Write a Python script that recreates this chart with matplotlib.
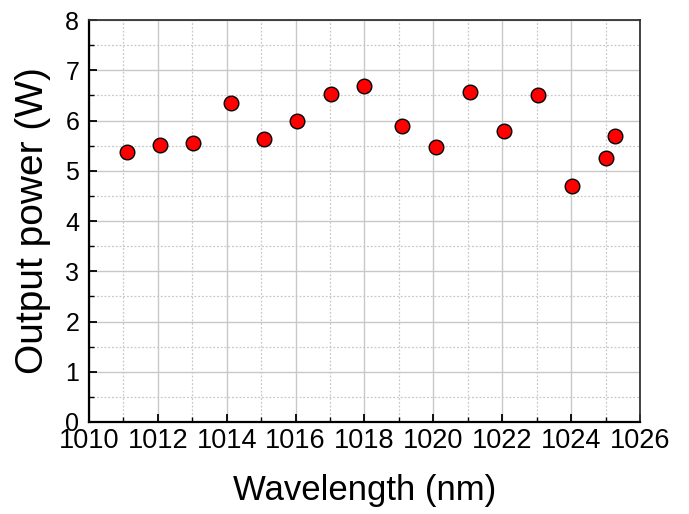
import matplotlib
matplotlib.use('Agg')
import matplotlib.pyplot as plt
from matplotlib.ticker import MultipleLocator

# ── Data ──────────────────────────────────────────────────────────────────────
wavelength_nm = [1011.1, 1012.06, 1013.03, 1014.12, 1015.08, 1016.05, 1017.03,
                 1018.0, 1019.1, 1020.09, 1021.07, 1022.05, 1023.04, 1024.02,
                 1025.0, 1025.28]
output_power_w = [5.38, 5.51, 5.56, 6.35, 5.64, 6.0, 6.53, 6.68, 5.89, 5.48,
                  6.57, 5.79, 6.51, 4.69, 5.25, 5.70]

plt.rcParams['font.family'] = ['Liberation Sans', 'DejaVu Sans']

fig = plt.figure(figsize=(6.89, 5.14), dpi=100)
ax = fig.add_axes([0.129, 0.179, 0.800, 0.782])

ax.plot(wavelength_nm, output_power_w, 'o', color='#ff0000', markersize=10.5,
        markeredgecolor='black', markeredgewidth=1.0, zorder=3, clip_on=False)

ax.set_xlim(1010, 1026)
ax.set_ylim(0, 8)
ax.xaxis.set_major_locator(MultipleLocator(2))
ax.xaxis.set_minor_locator(MultipleLocator(1))
ax.yaxis.set_major_locator(MultipleLocator(1))
ax.yaxis.set_minor_locator(MultipleLocator(0.5))

ax.grid(True, which='major', color='#c8c8c8', linewidth=1.0, linestyle='-')
ax.grid(True, which='minor', color='#c8c8c8', linewidth=0.9, linestyle=(0, (1.5, 1.5)))
ax.set_axisbelow(True)

for side in ['left', 'bottom']:
    ax.spines[side].set_linewidth(1.6)
for side in ['top', 'right']:
    ax.spines[side].set_linewidth(1.3)
    ax.spines[side].set_color('#333333')

ax.tick_params(which='major', direction='in', length=6, width=1.3, pad=5)
ax.tick_params(which='minor', direction='in', length=3.5, width=1.0)
ax.tick_params(axis='x', labelsize=19.5, pad=4)
ax.tick_params(axis='y', labelsize=18, pad=7)

ax.set_xlabel('Wavelength (nm)', fontsize=25, labelpad=15)
ax.set_ylabel('Output power (W)', fontsize=28, labelpad=10)

fig.savefig('out.png', dpi=100)
